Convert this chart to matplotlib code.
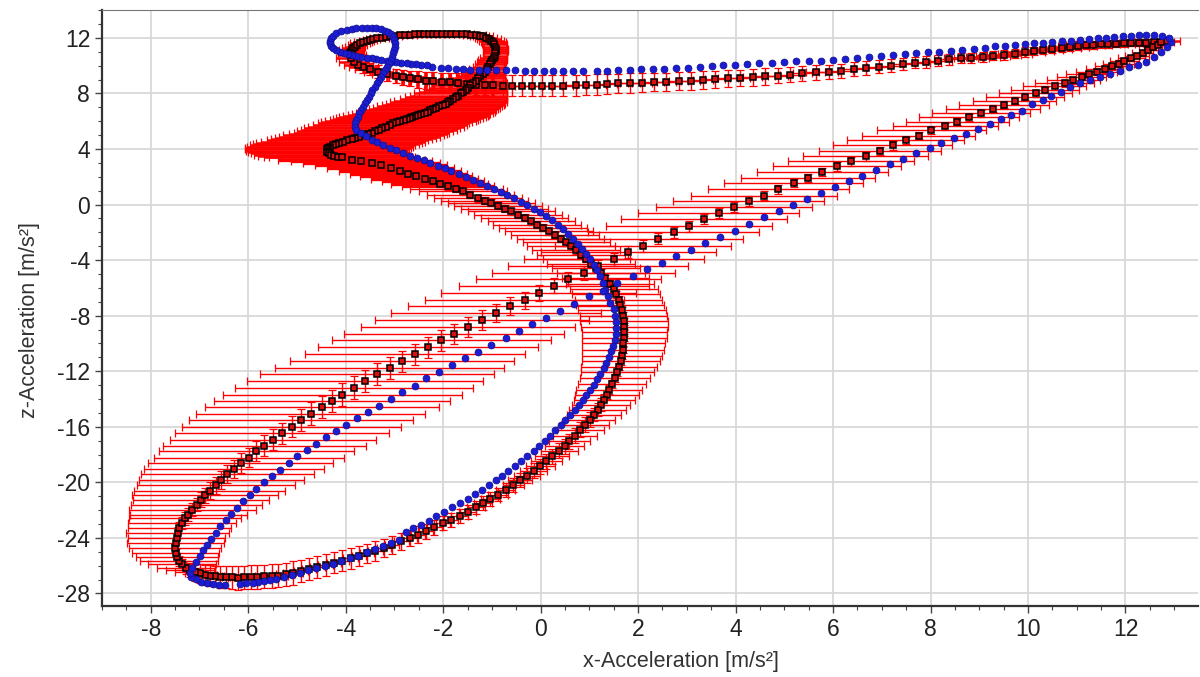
import matplotlib.pyplot as plt
from matplotlib.ticker import MultipleLocator

plt.rcParams['font.family'] = ['Liberation Sans', 'DejaVu Sans']
plt.rcParams['axes.unicode_minus'] = False

# Mean trajectory (black squares) with x/z standard deviation, read segment by segment
# each entry: (x, z, x_err, z_err)
mean_tip = [
    (12.86, 11.76, .25, .20), (12.59, 11.69, .40, .20), (12.43, 11.66, .40, .25),
    (12.27, 11.64, .40, .25), (12.12, 11.64, .40, .25), (11.96, 11.62, .40, .25),
    (11.80, 11.59, .40, .25), (11.65, 11.57, .40, .30), (11.49, 11.54, .40, .30),
    (11.33, 11.50, .40, .30), (11.18, 11.47, .40, .30), (11.02, 11.45, .40, .30),
    (10.86, 11.35, .40, .30), (10.69, 11.28, .40, .30), (10.50, 11.21, .40, .30),
    (10.31, 11.13, .40, .30), (10.13, 11.06, .40, .30), (9.94, 10.97, .40, .35),
    (9.73, 10.87, .35, .35), (9.51, 10.77, .35, .35), (9.29, 10.73, .35, .35),
    (9.07, 10.63, .35, .35), (8.84, 10.56, .35, .35), (8.62, 10.53, .35, .35),
]

mean_top = [
    (8.38, 10.46, .30, .40), (8.15, 10.37, .30, .40), (7.91, 10.27, .30, .40),
    (7.68, 10.20, .30, .40), (7.44, 10.12, .25, .45), (7.19, 10.00, .25, .45),
    (6.94, 9.93, .25, .45), (6.67, 9.84, .25, .50), (6.42, 9.76, .25, .50),
    (6.16, 9.64, .25, .50), (5.91, 9.57, .20, .50), (5.64, 9.52, .20, .55),
    (5.37, 9.45, .20, .55), (5.12, 9.36, .20, .55), (4.87, 9.28, .20, .55),
    (4.60, 9.24, .20, .60), (4.35, 9.16, .20, .60), (4.09, 9.12, .20, .60),
    (3.84, 9.09, .20, .60), (3.58, 9.02, .20, .60), (3.33, 8.97, .20, .65),
    (3.08, 8.92, .20, .65), (2.83, 8.90, .20, .65), (2.58, 8.85, .20, .65),
    (2.33, 8.80, .20, .65), (2.08, 8.78, .20, .70), (1.83, 8.75, .20, .70),
    (1.59, 8.73, .20, .70), (1.36, 8.68, .20, .70), (1.15, 8.64, .20, .75),
    (0.94, 8.61, .20, .75), (0.72, 8.59, .20, .75), (0.46, 8.57, .20, .75),
    (0.24, 8.57, .20, .75), (0.02, 8.57, .20, .75), (-0.18, 8.57, .20, .75),
    (-0.39, 8.57, .20, .75), (-0.58, 8.57, .20, .75), (-0.78, 8.57, .25, .75),
]

mean_top_left = [
    (-0.97, 8.59, .25, .75), (-1.15, 8.62, .30, .75), (-1.33, 8.62, .30, .75),
    (-1.52, 8.69, .30, .70), (-1.69, 8.76, .30, .70), (-1.86, 8.81, .30, .70),
    (-2.03, 8.86, .30, .65), (-2.21, 8.88, .30, .65), (-2.36, 8.93, .30, .60),
    (-2.51, 9.02, .30, .60), (-2.68, 9.10, .30, .55), (-2.82, 9.17, .30, .55),
]

mean_loop = [
    (-2.96, 9.29, .30, .50), (-3.16, 9.43, .30, .50), (-3.33, 9.58, .30, .45),
    (-3.50, 9.77, .30, .45), (-3.64, 9.89, .30, .40), (-3.74, 10.06, .30, .35),
    (-3.83, 10.30, .30, .30), (-3.90, 10.59, .30, .25), (-3.87, 10.75, .28, .22),
    (-3.91, 10.90, .25, .20), (-3.90, 11.02, .25, .20), (-3.88, 11.14, .25, .20),
    (-3.85, 11.26, .22, .18), (-3.81, 11.38, .20, .15), (-3.76, 11.50, .20, .15),
    (-3.71, 11.62, .20, .15), (-3.64, 11.70, .18, .15), (-3.57, 11.78, .15, .15),
    (-3.50, 11.86, .15, .15), (-3.44, 11.93, .15, .15), (-3.35, 11.98, .15, .15),
    (-3.26, 12.02, .15, .15), (-3.18, 12.07, .15, .15), (-3.09, 12.12, .15, .15),
    (-2.99, 12.16, .15, .15), (-2.89, 12.19, .15, .15), (-2.78, 12.22, .15, .15),
    (-2.68, 12.24, .15, .15), (-2.58, 12.25, .15, .15), (-2.48, 12.26, .15, .15),
    (-2.39, 12.27, .15, .15), (-2.30, 12.27, .15, .15), (-2.21, 12.28, .15, .15),
    (-2.12, 12.28, .15, .15), (-2.02, 12.29, .15, .15), (-1.93, 12.29, .15, .15),
    (-1.83, 12.29, .15, .15), (-1.73, 12.29, .15, .15), (-1.62, 12.28, .15, .15),
    (-1.52, 12.26, .15, .15), (-1.42, 12.24, .18, .15), (-1.32, 12.22, .20, .15),
    (-1.25, 12.17, .20, .15), (-1.18, 12.12, .20, .15), (-1.12, 12.03, .22, .18),
    (-1.06, 11.93, .25, .20), (-1.01, 11.81, .25, .20), (-0.97, 11.69, .25, .20),
    (-0.95, 11.53, .25, .20), (-0.93, 11.38, .25, .20), (-0.92, 11.22, .25, .20),
    (-0.92, 11.06, .25, .20), (-0.93, 10.90, .25, .20), (-0.94, 10.73, .25, .20),
    (-0.96, 10.58, .28, .22), (-0.99, 10.42, .30, .25), (-1.01, 10.27, .30, .25),
    (-1.04, 10.11, .30, .25), (-1.07, 9.94, .32, .25), (-1.11, 9.77, .35, .25),
]

mean_drop = [
    (-1.15, 9.58, .40, .30), (-1.19, 9.41, .45, .30), (-1.24, 9.25, .50, .30),
    (-1.28, 9.10, .55, .30), (-1.33, 8.92, .62, .30), (-1.38, 8.74, .70, .30),
    (-1.44, 8.58, .75, .30), (-1.49, 8.43, .80, .30), (-1.54, 8.28, .85, .30),
    (-1.59, 8.14, .90, .30), (-1.64, 8.00, .95, .30), (-1.69, 7.85, 1.00, .30),
    (-1.74, 7.73, 1.05, .30), (-1.79, 7.61, 1.10, .30), (-1.85, 7.49, 1.15, .30),
    (-1.90, 7.37, 1.20, .30), (-1.95, 7.27, 1.22, .30), (-2.01, 7.18, 1.25, .30),
    (-2.08, 7.08, 1.28, .30), (-2.14, 6.99, 1.30, .30), (-2.20, 6.90, 1.32, .30),
    (-2.26, 6.80, 1.35, .30), (-2.32, 6.70, 1.38, .30), (-2.38, 6.60, 1.40, .30),
    (-2.45, 6.53, 1.42, .30), (-2.51, 6.46, 1.45, .30), (-2.57, 6.39, 1.48, .30),
    (-2.63, 6.32, 1.50, .30), (-2.69, 6.25, 1.50, .30), (-2.75, 6.17, 1.50, .30),
    (-2.81, 6.10, 1.52, .30), (-2.88, 6.03, 1.55, .30), (-2.95, 5.94, 1.55, .30),
    (-3.02, 5.84, 1.55, .30), (-3.10, 5.73, 1.58, .30), (-3.17, 5.62, 1.60, .30),
    (-3.25, 5.51, 1.60, .30), (-3.32, 5.40, 1.60, .30), (-3.40, 5.29, 1.60, .30),
    (-3.47, 5.18, 1.60, .30), (-3.55, 5.08, 1.62, .30), (-3.63, 4.99, 1.65, .30),
    (-3.72, 4.90, 1.65, .30), (-3.80, 4.80, 1.65, .30), (-3.88, 4.71, 1.65, .30),
    (-3.97, 4.62, 1.65, .30), (-4.05, 4.53, 1.68, .30), (-4.13, 4.45, 1.70, .30),
    (-4.20, 4.36, 1.70, .30), (-4.27, 4.27, 1.70, .30), (-4.32, 4.17, 1.70, .30),
    (-4.36, 4.07, 1.70, .30), (-4.38, 3.97, 1.68, .30), (-4.39, 3.87, 1.65, .30),
    (-4.38, 3.77, 1.62, .30), (-4.35, 3.68, 1.60, .30), (-4.30, 3.60, 1.58, .30),
    (-4.24, 3.52, 1.55, .30), (-4.16, 3.46, 1.52, .30), (-4.08, 3.40, 1.50, .30),
]

mean_swing_head = [
    (-3.88, 3.24, 1.50, .25), (-3.68, 3.12, 1.45, .25), (-3.47, 3.00, 1.40, .25),
    (-3.27, 2.84, 1.35, .25), (-3.08, 2.60, 1.30, .25), (-2.89, 2.40, 1.25, .25),
    (-2.72, 2.18, 1.20, .25), (-2.55, 2.03, 1.15, .25), (-2.38, 1.84, 1.10, .25),
    (-2.21, 1.67, 1.05, .25), (-2.07, 1.51, 1.00, .25), (-1.90, 1.31, .95, .25),
]

mean_swing = [
    (-1.73, 1.12, .95, .25), (-1.59, 0.95, .90, .25), (-1.44, 0.71, .90, .25),
    (-1.29, 0.47, .90, .25), (-1.15, 0.28, .90, .25), (-1.01, 0.12, .90, .25),
    (-0.88, -0.08, .90, .25), (-0.74, -0.29, .90, .25), (-0.60, -0.48, .90, .25),
    (-0.46, -0.72, .90, .25), (-0.33, -0.96, .90, .25), (-0.19, -1.20, .90, .25),
    (-0.07, -1.44, .90, .25), (0.05, -1.68, .90, .25), (0.17, -1.92, .90, .25),
    (0.29, -2.19, .90, .25), (0.41, -2.45, .90, .25), (0.53, -2.71, .90, .25),
    (0.63, -3.00, .90, .25), (0.73, -3.29, .90, .25), (0.83, -3.60, .90, .25),
    (0.94, -3.91, .90, .25), (1.04, -4.25, .90, .25), (1.14, -4.59, .90, .25),
    (1.24, -4.92, .90, .25), (1.33, -5.30, .90, .25), (1.42, -5.69, .90, .25),
    (1.50, -6.07, .90, .25), (1.55, -6.46, .90, .25), (1.60, -6.84, .90, .25),
    (1.63, -7.22, .90, .25), (1.67, -7.61, .90, .25), (1.70, -7.99, .90, .25),
    (1.71, -8.40, .90, .25), (1.72, -8.81, .90, .25), (1.72, -9.19, .88, .25),
    (1.72, -9.60, .87, .25), (1.70, -10.00, .86, .25), (1.69, -10.44, .85, .25),
    (1.67, -10.87, .83, .25), (1.64, -11.28, .80, .25), (1.61, -11.68, .78, .25),
    (1.57, -12.07, .75, .25), (1.52, -12.47, .72, .28),
]

mean_lower = [
    (1.46, -12.92, .70, .30), (1.41, -13.32, .68, .30), (1.36, -13.68, .65, .35),
    (1.31, -14.04, .62, .40), (1.24, -14.40, .60, .45), (1.17, -14.76, .58, .50),
    (1.09, -15.12, .55, .50), (1.01, -15.48, .52, .55), (0.91, -15.84, .50, .55),
    (0.81, -16.20, .48, .55), (0.70, -16.63, .45, .55), (0.59, -17.04, .42, .55),
    (0.49, -17.40, .40, .55), (0.38, -17.71, .38, .55), (0.24, -18.12, .35, .55),
    (0.12, -18.48, .32, .55), (-0.01, -18.84, .30, .55), (-0.14, -19.15, .28, .55),
    (-0.28, -19.51, .26, .55), (-0.42, -19.85, .24, .50), (-0.56, -20.18, .22, .50),
    (-0.72, -20.54, .20, .50), (-0.87, -20.88, .20, .50), (-1.03, -21.19, .20, .50),
    (-1.18, -21.50, .18, .50), (-1.33, -21.81, .18, .50), (-1.50, -22.12, .18, .50),
    (-1.66, -22.41, .18, .50), (-1.84, -22.70, .15, .50), (-2.00, -22.96, .15, .50),
    (-2.18, -23.25, .15, .55), (-2.35, -23.52, .15, .55), (-2.52, -23.78, .15, .60),
    (-2.69, -24.02, .15, .60), (-2.86, -24.26, .15, .60),
]

mean_bottom = [
    (-3.05, -24.52, .15, .65), (-3.21, -24.74, .15, .65), (-3.39, -24.93, .15, .70),
    (-3.56, -25.12, .15, .70), (-3.73, -25.31, .15, .70), (-3.90, -25.46, .15, .75),
    (-4.08, -25.63, .15, .75), (-4.24, -25.79, .15, .75), (-4.41, -25.94, .15, .80),
    (-4.58, -26.08, .15, .80), (-4.75, -26.23, .15, .80), (-4.92, -26.37, .15, .80),
    (-5.08, -26.51, .20, .85), (-5.23, -26.63, .20, .85), (-5.38, -26.71, .20, .85),
    (-5.52, -26.75, .20, .85), (-5.67, -26.78, .20, .85), (-5.81, -26.80, .20, .85),
    (-5.94, -26.82, .20, .85), (-6.09, -26.85, .20, .85), (-6.21, -26.87, .20, .85),
    (-6.33, -26.85, .20, .80), (-6.46, -26.82, .20, .80), (-6.58, -26.80, .20, .80),
    (-6.69, -26.75, .20, .75), (-6.79, -26.71, .25, .75), (-6.89, -26.66, .25, .70),
    (-6.99, -26.56, .30, .70), (-7.10, -26.47, .40, .60), (-7.19, -26.32, .50, .50),
    (-7.28, -26.15, .60, .45), (-7.36, -25.91, .70, .40), (-7.42, -25.67, .80, .35),
    (-7.46, -25.39, .85, .30), (-7.49, -25.07, .90, .30), (-7.50, -24.71, .95, .30),
]

mean_rise = [
    (-7.49, -24.35, 1.00, .35), (-7.47, -24.00, 1.00, .35), (-7.45, -23.64, 1.05, .40),
    (-7.41, -23.28, 1.05, .40), (-7.36, -22.92, 1.10, .45), (-7.30, -22.60, 1.15, .45),
    (-7.23, -22.32, 1.20, .50), (-7.15, -21.96, 1.30, .50), (-7.06, -21.60, 1.35, .50),
    (-6.97, -21.24, 1.40, .55), (-6.89, -20.93, 1.50, .55), (-6.79, -20.59, 1.55, .60),
    (-6.67, -20.21, 1.62, .60), (-6.55, -19.80, 1.70, .65), (-6.43, -19.39, 1.78, .65),
    (-6.29, -19.01, 1.85, .65), (-6.15, -18.60, 1.90, .70), (-5.99, -18.22, 1.95, .70),
    (-5.83, -17.76, 2.00, .70), (-5.67, -17.35, 2.08, .75), (-5.49, -16.92, 2.12, .75),
    (-5.31, -16.47, 2.20, .75), (-5.11, -16.01, 2.25, .75), (-4.91, -15.53, 2.30, .80),
    (-4.72, -15.05, 2.35, .80), (-4.49, -14.59, 2.40, .80), (-4.28, -14.12, 2.42, .80),
    (-4.07, -13.68, 2.45, .80), (-3.83, -13.18, 2.45, .80), (-3.60, -12.72, 2.42, .80),
    (-3.35, -12.22, 2.40, .80), (-3.10, -11.74, 2.35, .80), (-2.84, -11.29, 2.30, .75),
    (-2.58, -10.78, 2.25, .75), (-2.31, -10.28, 2.25, .75), (-2.04, -9.77, 2.25, .75),
    (-1.78, -9.31, 2.25, .70), (-1.49, -8.82, 2.20, .70), (-1.20, -8.32, 2.20, .70),
    (-0.91, -7.81, 2.15, .65), (-0.62, -7.33, 2.10, .65), (-0.33, -6.89, 2.05, .60),
    (-0.04, -6.36, 2.00, .60), (0.27, -5.83, 1.95, .55), (0.57, -5.35, 1.90, .50),
    (0.88, -4.92, 1.88, .50), (1.18, -4.44, 1.85, .45), (1.50, -3.94, 1.85, .45),
    (1.80, -3.41, 1.80, .45), (2.10, -2.98, 1.80, .40), (2.41, -2.45, 1.75, .40),
    (2.73, -2.01, 1.75, .40), (3.04, -1.56, 1.70, .40), (3.35, -1.05, 1.70, .35),
    (3.65, -0.62, 1.65, .35), (3.96, -0.19, 1.60, .35), (4.27, 0.27, 1.55, .35),
    (4.59, 0.65, 1.50, .35), (4.88, 1.09, 1.45, .30), (5.19, 1.54, 1.42, .30),
    (5.49, 1.90, 1.38, .30), (5.78, 2.36, 1.35, .30), (6.08, 2.75, 1.32, .30),
    (6.37, 3.11, 1.30, .30), (6.67, 3.47, 1.28, .30), (6.96, 3.85, 1.25, .30),
    (7.22, 4.26, 1.22, .30), (7.49, 4.64, 1.20, .25), (7.76, 4.96, 1.16, .25),
    (8.02, 5.34, 1.12, .25), (8.30, 5.65, 1.08, .25), (8.55, 5.97, 1.05, .25),
    (8.79, 6.28, 1.02, .25), (9.04, 6.59, 1.00, .25), (9.28, 6.90, 0.97, .25),
    (9.51, 7.19, 0.92, .25), (9.73, 7.48, 0.85, .25), (9.94, 7.77, 0.80, .25),
    (10.16, 8.01, 0.75, .25), (10.35, 8.25, 0.70, .25), (10.55, 8.51, 0.65, .25),
    (10.75, 8.75, 0.60, .25), (10.93, 8.95, 0.55, .25), (11.10, 9.19, 0.50, .25),
    (11.25, 9.38, 0.46, .25), (11.41, 9.57, 0.42, .25), (11.57, 9.76, 0.38, .25),
    (11.73, 9.96, 0.35, .25), (11.86, 10.15, 0.32, .25), (11.98, 10.32, 0.30, .20),
    (12.12, 10.53, 0.28, .20), (12.24, 10.73, 0.25, .20), (12.35, 10.92, 0.22, .20),
    (12.47, 11.13, 0.20, .20), (12.57, 11.33, 0.18, .20), (12.67, 11.52, 0.15, .20),
    (12.73, 11.69, 0.15, .20),
]

# Second trajectory (blue dots): (x, z)
model_upper = [
    (12.94, 11.74), (12.89, 11.98), (12.75, 12.17), (12.59, 12.24), (12.43, 12.22),
    (12.27, 12.19), (12.12, 12.17), (11.95, 12.12), (11.77, 12.07), (11.60, 12.02),
    (11.43, 11.98), (11.25, 11.93), (11.07, 11.86), (10.88, 11.81), (10.69, 11.76),
    (10.50, 11.71), (10.31, 11.66), (10.13, 11.62), (9.94, 11.57), (9.73, 11.50),
    (9.53, 11.45), (9.33, 11.40), (9.12, 11.30), (8.89, 11.23), (8.65, 11.16),
    (8.42, 11.09), (8.18, 11.01), (7.95, 10.97), (7.71, 10.92), (7.47, 10.85),
    (7.24, 10.77), (6.99, 10.68), (6.74, 10.61), (6.49, 10.56), (6.24, 10.49),
    (6.00, 10.41), (5.75, 10.37), (5.50, 10.34), (5.25, 10.32), (5.00, 10.25),
    (4.75, 10.20), (4.49, 10.17), (4.24, 10.13), (3.99, 10.08), (3.74, 10.03),
    (3.51, 9.98), (3.27, 9.91), (3.02, 9.86), (2.77, 9.81), (2.53, 9.79),
    (2.30, 9.76), (2.06, 9.74), (1.83, 9.72), (1.59, 9.67), (1.36, 9.64),
    (1.15, 9.63), (0.87, 9.63), (0.67, 9.63), (0.46, 9.63), (0.26, 9.63),
    (0.06, 9.63), (-0.13, 9.63), (-0.32, 9.65), (-0.53, 9.67), (-0.72, 9.70),
    (-0.91, 9.70), (-1.10, 9.70), (-1.26, 9.70), (-1.44, 9.72), (-1.59, 9.75),
    (-1.74, 9.77), (-1.90, 9.82), (-2.05, 9.87), (-2.23, 9.94),
]

model_loop = [
    (-2.34, 10.06), (-2.45, 10.08), (-2.55, 10.11), (-2.65, 10.15), (-2.75, 10.18),
    (-2.86, 10.21), (-2.96, 10.25), (-3.06, 10.30), (-3.16, 10.35), (-3.27, 10.41),
    (-3.37, 10.47), (-3.47, 10.53), (-3.57, 10.59), (-3.68, 10.65), (-3.78, 10.71),
    (-3.87, 10.78), (-3.95, 10.85), (-4.04, 10.93), (-4.12, 11.02), (-4.20, 11.13),
    (-4.26, 11.26), (-4.30, 11.44), (-4.32, 11.62), (-4.32, 11.80), (-4.31, 11.98),
    (-4.26, 12.17), (-4.19, 12.34), (-4.09, 12.47), (-3.98, 12.58), (-3.88, 12.65),
    (-3.78, 12.70), (-3.67, 12.73), (-3.57, 12.74), (-3.47, 12.73), (-3.37, 12.70),
    (-3.28, 12.63), (-3.20, 12.53), (-3.13, 12.41), (-3.07, 12.26), (-3.03, 12.07),
    (-3.01, 11.86), (-2.99, 11.62), (-2.99, 11.38), (-3.01, 11.14), (-3.03, 10.90),
    (-3.05, 10.66), (-3.08, 10.42), (-3.11, 10.18), (-3.15, 9.94), (-3.19, 9.70),
    (-3.23, 9.46), (-3.27, 9.22), (-3.32, 8.98), (-3.36, 8.74), (-3.40, 8.50),
    (-3.45, 8.26), (-3.49, 8.02), (-3.53, 7.78), (-3.57, 7.54), (-3.61, 7.30),
    (-3.65, 7.06), (-3.69, 6.82), (-3.72, 6.58), (-3.75, 6.34), (-3.78, 6.10),
    (-3.80, 5.86), (-3.81, 5.62),
]

model_swing = [
    (-3.78, 5.34), (-3.68, 5.15), (-3.58, 4.91), (-3.47, 4.67), (-3.36, 4.48),
    (-3.23, 4.26), (-3.10, 4.07), (-2.96, 3.90), (-2.82, 3.71), (-2.69, 3.52),
    (-2.54, 3.35), (-2.40, 3.18), (-2.26, 2.99), (-2.11, 2.80), (-1.97, 2.61),
    (-1.83, 2.42), (-1.68, 2.20), (-1.54, 1.99), (-1.39, 1.77), (-1.25, 1.55),
    (-1.11, 1.34), (-0.96, 1.12), (-0.82, 0.91), (-0.68, 0.69), (-0.54, 0.45),
    (-0.40, 0.21), (-0.27, -0.03), (-0.14, -0.29), (-0.01, -0.56), (0.12, -0.84),
    (0.23, -1.13), (0.35, -1.44), (0.46, -1.76), (0.56, -2.09), (0.66, -2.45),
    (0.77, -2.81), (0.85, -3.17), (0.94, -3.53), (1.02, -3.91), (1.09, -4.32),
    (1.16, -4.73), (1.22, -5.16), (1.28, -5.64), (1.33, -6.12), (1.38, -6.60),
    (1.42, -7.08), (1.50, -7.55), (1.53, -8.05), (1.54, -8.46), (1.55, -8.89),
    (1.54, -9.32), (1.52, -9.73), (1.48, -10.16), (1.45, -10.57), (1.40, -11.00),
    (1.35, -11.41), (1.29, -11.76), (1.22, -12.17), (1.16, -12.56), (1.09, -12.96),
    (1.02, -13.32), (0.94, -13.68), (0.87, -14.04), (0.78, -14.40), (0.70, -14.76),
    (0.60, -15.12), (0.51, -15.48), (0.41, -15.84), (0.30, -16.23), (0.20, -16.63),
    (0.08, -17.02), (-0.03, -17.40), (-0.14, -17.74), (-0.27, -18.07), (-0.40, -18.46),
    (-0.53, -18.79), (-0.66, -19.15), (-0.79, -19.51), (-0.92, -19.85), (-1.06, -20.18),
    (-1.20, -20.52), (-1.35, -20.83), (-1.50, -21.17), (-1.66, -21.48), (-1.82, -21.81),
    (-1.98, -22.12), (-2.14, -22.44), (-2.29, -22.75), (-2.45, -23.04), (-2.61, -23.30),
]

model_bottom = [
    (-2.76, -23.60), (-2.91, -24.12), (-3.06, -24.35), (-3.23, -24.59), (-3.39, -24.83),
    (-3.56, -25.03), (-3.74, -25.27), (-3.92, -25.48), (-4.09, -25.67), (-4.26, -25.87),
    (-4.43, -26.03), (-4.60, -26.18), (-4.77, -26.32), (-4.94, -26.51), (-5.11, -26.66),
    (-5.27, -26.80), (-5.42, -26.94), (-5.55, -27.06), (-5.67, -27.14), (-5.79, -27.18),
    (-5.91, -27.23), (-6.04, -27.28), (-6.16, -27.35), (-6.48, -27.38), (-6.60, -27.38),
    (-6.72, -27.35), (-6.84, -27.28), (-6.96, -27.16), (-7.08, -26.99), (-7.17, -26.80),
    (-7.20, -26.51), (-7.16, -26.15), (-7.08, -25.75),
]

model_rise = [
    (-6.99, -25.31), (-6.93, -24.88), (-6.84, -24.48), (-6.76, -24.07), (-6.67, -23.64),
    (-6.57, -23.16), (-6.46, -22.68), (-6.35, -22.27), (-6.23, -21.84), (-6.11, -21.36),
    (-5.97, -20.93), (-5.83, -20.47), (-5.68, -19.99), (-5.51, -19.56), (-5.35, -19.08),
    (-5.17, -18.60), (-4.99, -18.12), (-4.79, -17.69), (-4.60, -17.23), (-4.41, -16.73),
    (-4.19, -16.32), (-3.99, -15.84), (-3.77, -15.36), (-3.54, -14.93), (-3.32, -14.47),
    (-3.08, -14.00), (-2.84, -13.52), (-2.58, -13.04), (-2.35, -12.50), (-2.09, -12.04),
    (-1.82, -11.56), (-1.56, -11.06), (-1.29, -10.60), (-1.01, -10.12), (-0.72, -9.60),
    (-0.45, -9.09), (-0.17, -8.59), (0.12, -8.16), (0.40, -7.63), (0.68, -7.13),
    (0.99, -6.60), (1.28, -6.19), (1.57, -5.67), (1.89, -5.14), (2.19, -4.66),
    (2.49, -4.23), (2.78, -3.70), (3.08, -3.26), (3.38, -2.74), (3.69, -2.30),
    (3.98, -1.89), (4.27, -1.41), (4.59, -0.93), (4.89, -0.45), (5.18, -0.02),
    (5.47, 0.39), (5.76, 0.80), (6.05, 1.23), (6.33, 1.69), (6.60, 2.07),
    (6.88, 2.50), (7.16, 2.91), (7.44, 3.27), (7.70, 3.68), (7.98, 4.04),
    (8.22, 4.40), (8.49, 4.76), (8.73, 5.08), (8.98, 5.44), (9.22, 5.80),
    (9.45, 6.16), (9.66, 6.45), (9.88, 6.76), (10.08, 7.24), (10.30, 7.53),
    (10.47, 7.84), (10.67, 8.13), (10.86, 8.44), (11.06, 8.73), (11.27, 9.00),
    (11.47, 9.21), (11.69, 9.40), (11.88, 9.64), (12.08, 9.88), (12.26, 10.05),
    (12.43, 10.29), (12.59, 10.61), (12.73, 10.97), (12.86, 11.33),
]

x_ticks = list(range(-8, 13, 2))
z_ticks = list(range(-28, 13, 4))

fig = plt.figure(figsize=(12, 6.77), dpi=100)
ax = fig.add_axes([0.085, 0.105, 0.913, 0.88])

# error bars segment by segment: the dense parts of the cycle show up as solid red
segments = [
    (mean_tip, 1.8), (mean_top, 1.0), (mean_top_left, 2.6), (mean_loop, 1.8),
    (mean_drop, 1.8), (mean_swing_head, 2.4), (mean_swing, 1.0),
    (mean_lower, 1.0), (mean_bottom, 1.0), (mean_rise, 1.0),
]
for seg, lw in segments:
    ax.errorbar([p[0] for p in seg], [p[1] for p in seg],
                xerr=[p[2] for p in seg], yerr=[p[3] for p in seg],
                fmt='none', ecolor='#ff0000', elinewidth=lw,
                capsize=3, capthick=0.9, zorder=2)

mean_pts = (mean_tip + mean_top + mean_top_left + mean_loop + mean_drop
            + mean_swing_head + mean_swing + mean_lower + mean_bottom + mean_rise)
ax.plot([p[0] for p in mean_pts], [p[1] for p in mean_pts], 's',
        ms=4.8, mfc='#d81010', mec='black', mew=1.1, zorder=3)

model_pts = model_upper + model_loop + model_swing + model_bottom + model_rise
ax.plot([p[0] for p in model_pts], [p[1] for p in model_pts], 'o',
        ms=5, mfc='#1c1cd2', mec='#10108a', mew=0.5, zorder=4)

ax.set_xlim(-9.0, 13.48)
ax.set_ylim(-28.9, 14.0)
ax.set_xticks(x_ticks)
ax.set_yticks(z_ticks)
ax.xaxis.set_minor_locator(MultipleLocator(0.5))
ax.yaxis.set_minor_locator(MultipleLocator(1))

ax.grid(True, which='major', color='#d6d6d6', linewidth=1.2)
ax.set_axisbelow(True)

for side in ['left', 'bottom']:
    ax.spines[side].set_color('#333333')
    ax.spines[side].set_linewidth(1.6)
ax.spines['top'].set_color('#777777')
ax.spines['top'].set_linewidth(0.8)
ax.spines['right'].set_visible(False)

ax.tick_params(which='both', direction='out', colors='#444444', top=False, right=False)
ax.tick_params(which='major', length=5, width=1, labelsize=16.5, labelcolor='#222222')
ax.tick_params(which='minor', length=3, width=0.8)

ax.set_xlabel('x-Acceleration [m/s²]', fontsize=15.5, color='#333333')
ax.set_ylabel('z-Acceleration [m/s²]', fontsize=15.5, color='#333333')
ax.xaxis.set_label_coords(0.528, -0.075)
ax.yaxis.set_label_coords(-0.057, 0.48)

fig.savefig('out.png', dpi=100)
